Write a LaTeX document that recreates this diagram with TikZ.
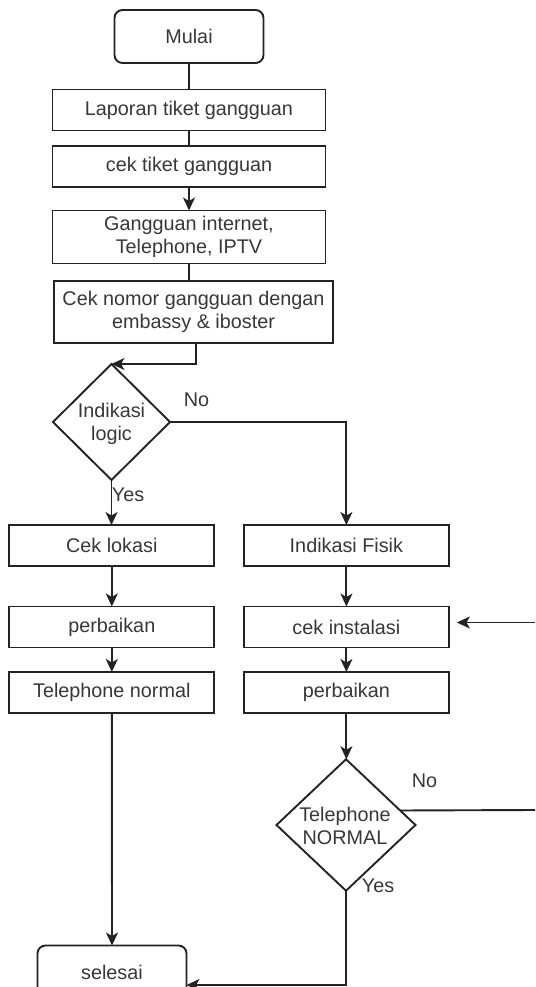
\documentclass[tikz,border=0pt]{standalone}
\usepackage{fontspec}
\setmainfont{Liberation Sans}
\usetikzlibrary{shapes.geometric,arrows.meta,calc}
\definecolor{txtc}{RGB}{55,55,55}
\definecolor{linec}{RGB}{35,35,35}
\begin{document}
\begin{tikzpicture}[x=1pt,y=-1pt,
  every node/.style={font=\fontsize{19.8}{23.5}\selectfont, text=txtc, outer sep=0pt},
  box/.style={draw=linec, line width=1.9pt, rectangle, inner sep=0pt, align=center},
  term/.style={box, rounded corners=8pt},
  dia/.style={draw=linec, line width=1.9pt, diamond, inner sep=0pt},
  conn/.style={draw=linec, line width=1.9pt},
  arr/.style={conn, -{Stealth[length=13pt,width=12pt,inset=3.5pt]}},
  lbl/.style={inner sep=0pt}]
\useasboundingbox (0,0) rectangle (535,987);
\clip (0,0) rectangle (535,987);

\node[term, minimum width=149pt, minimum height=53pt] (mulai) at (189,36.5) {Mulai};
\node[box, minimum width=273pt, minimum height=41pt] (lap) at (189,110) {Laporan tiket gangguan};
\node[box, minimum width=273pt, minimum height=41pt] (cek) at (189,166.5) {cek tiket gangguan};
\node[box, minimum width=273pt, minimum height=53pt] (gang) at (189,237) {Gangguan internet,\\Telephone, IPTV};
\node[box, minimum width=279pt, minimum height=62pt] (nomor) at (193.5,312) {Cek nomor gangguan dengan\\embassy \& iboster};
\node[dia, minimum width=117pt, minimum height=116pt] (dlog) at (111.5,422) {};
\node[align=center, inner sep=0pt] (dlogt) at (111.5,424) {Indikasi\\logic};
\node[box, minimum width=205pt, minimum height=41pt] (lok) at (111.8,545.5) {Cek lokasi};
\node[box, minimum width=205pt, minimum height=41pt] (fis) at (346.4,545.5) {Indikasi Fisik};
\node[box, minimum width=205pt, minimum height=41pt] (perb1) at (111.8,627) {perbaikan};
\node[box, minimum width=205pt, minimum height=41pt] (inst) at (346.4,627) {cek instalasi};
\node[box, minimum width=205pt, minimum height=41pt] (telnorm) at (111.8,692.5) {Telephone normal};
\node[box, minimum width=205pt, minimum height=41pt] (perb2) at (346.4,692.5) {perbaikan};
\node[dia, minimum width=139pt, minimum height=131.5pt] (dtel) at (346,825) {};
\node[align=center, inner sep=0pt] (dtelt) at (345,826) {Telephone\\NORMAL};
\node[term, minimum width=149pt, minimum height=53pt] (sel) at (112,972) {selesai};

\node[lbl] (no1) at (196.5,400) {No};
\node[lbl] (yes1) at (128,495) {Yes};
\node[lbl] (no2) at (424.5,781) {No};
\node[lbl] (yes2) at (378,886) {Yes};

\coordinate (rin) at (535,622.5);
\coordinate (rout) at (535,810);

\draw[conn] (mulai.south) -- (lap.north);
\draw[conn] (lap.south) -- (cek.north);
\draw[arr] (cek.south) -- (gang.north);
\draw[conn] (gang.south) -- (gang.south |- nomor.north);
\draw[arr] ([xshift=2.5pt]nomor.south) |- (dlog.north);
\draw[arr] (dlog.east) -| (fis.north);
\draw[arr] (dlog.south) -- (dlog.south |- lok.north);
\draw[arr] (lok.south) -- (perb1.north);
\draw[arr] (perb1.south) -- (telnorm.north);
\draw[arr] (telnorm.south) -- (sel.north);
\draw[arr] (fis.south) -- (inst.north);
\draw[arr] (inst.south) -- (perb2.north);
\draw[arr] (perb2.south) -- (perb2.south |- dtel.north);
\draw[arr] (rin) -- ([xshift=8pt,yshift=4.5pt]inst.east);
\draw[conn] (dtel.15.6) -- (rout);
\draw[arr] (dtel.south) |- ($(sel.east)+(0,13)$);
\end{tikzpicture}
\end{document}
